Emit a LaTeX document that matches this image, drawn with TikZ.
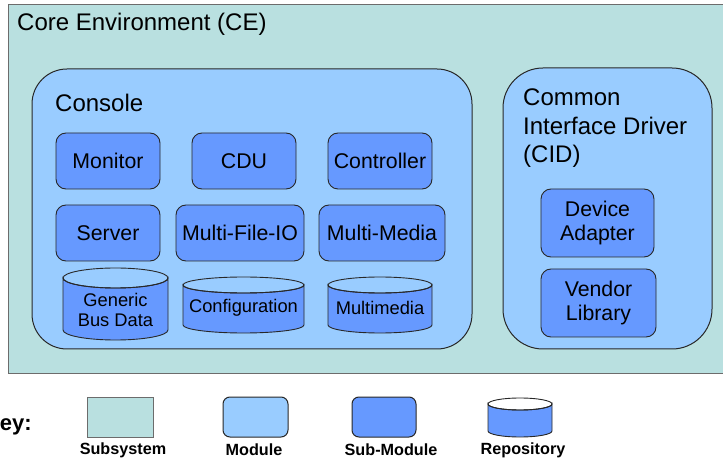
\documentclass[tikz,border=0pt]{standalone}
\usepackage{fontspec}
\setmainfont{Liberation Sans}
\definecolor{cefill}{RGB}{185,224,224}
\definecolor{modfill}{RGB}{153,204,255}
\definecolor{subfill}{RGB}{102,153,255}
\definecolor{edge}{RGB}{40,40,40}
\begin{document}
\begin{tikzpicture}[x=1pt,y=-1pt,
  cebox/.style={draw=gray!85!black, fill=cefill, line width=1pt, rectangle, inner sep=0pt},
  modbox/.style={draw=edge, fill=modfill, line width=1pt, rectangle, inner sep=0pt},
  subbox/.style={draw=edge, fill=subfill, line width=0.9pt, rounded corners=10pt, rectangle, inner sep=0pt, minimum height=56pt, font=\fontsize{21.3}{25}\selectfont, align=center},
  cyl/.style={draw=edge, fill=subfill, line width=0.9pt},
  title/.style={font=\fontsize{24}{28}\selectfont, inner sep=0pt, anchor=west},
  keylabel/.style={font=\fontsize{16.2}{18}\selectfont\bfseries, inner sep=0pt},
  cyltext/.style={font=\fontsize{18.3}{21}\selectfont, align=center, inner sep=0pt}
]
\useasboundingbox (0,0) rectangle (723,462);
\clip (0,0) rectangle (723,462);
\fill[white] (0,0) rectangle (723,462);
% Core environment
\node[cebox, minimum width=732pt, minimum height=368pt] (ce) at (374,189) {};
\node[title] (cetitle) at (17,24) {Core Environment (CE)};
% Console
\node[modbox, rounded corners=35pt, minimum width=440pt, minimum height=280pt] (console) at (252,209) {};
\node[title] (consoletitle) at (55,103) {Console};
% CID
\node[modbox, rounded corners=40pt, minimum width=209pt, minimum height=281pt] (cid) at (607.5,208.5) {};
\node[font=\fontsize{24}{28.5}\selectfont, align=left, inner sep=0pt, anchor=west] (cidtitle) at (523,128.5) {Common\\Interface Driver\\(CID)};
% CID sub-modules
\node[subbox, minimum width=113pt, minimum height=68pt, font=\fontsize{21.3}{24.5}\selectfont] (device) at (597.5,223) {Device\\Adapter};
\node[subbox, minimum width=115pt, minimum height=68pt, font=\fontsize{21.3}{24.5}\selectfont] (vendor) at (598.5,303) {Vendor\\Library};
% Console sub-modules
\node[subbox, minimum width=104pt] (monitor) at (108,161) {Monitor};
\node[subbox, minimum width=104pt] (cdu) at (244,161) {CDU};
\node[subbox, minimum width=104pt] (controller) at (380,161) {Controller};
\node[subbox, minimum width=104pt] (server) at (108,233) {Server};
\node[subbox, minimum width=128pt] (mfio) at (240,233) {Multi-File-IO};
\node[subbox, minimum width=126pt] (mmedia) at (382,233) {Multi-Media};
% Repositories
% Generic Bus Data
\filldraw[cyl] (63,278) -- (63,330) arc[start angle=180, end angle=0, x radius=52.5, y radius=10] -- (168,278) arc[start angle=0, end angle=180, x radius=52.5, y radius=10] -- cycle;
\draw[edge, line width=0.9pt] (115.5,278) ellipse[x radius=52.5, y radius=10];
\node[cyltext] (gbd) at (115.5,310) {Generic\\[-1pt]Bus Data};
% Configuration
\filldraw[cyl] (183,285) -- (183,325) arc[start angle=180, end angle=0, x radius=60.5, y radius=8] -- (304,285) arc[start angle=0, end angle=180, x radius=60.5, y radius=8] -- cycle;
\draw[edge, line width=0.9pt] (243.5,285) ellipse[x radius=60.5, y radius=8];
\node[cyltext] (config) at (243.5,308) {Configuration};
% Multimedia
\filldraw[cyl] (328,285) -- (328,325) arc[start angle=180, end angle=0, x radius=52, y radius=8] -- (432,285) arc[start angle=0, end angle=180, x radius=52, y radius=8] -- cycle;
\draw[edge, line width=0.9pt] (380,285) ellipse[x radius=52, y radius=8];
\node[cyltext] (mmrepo) at (380,308) {Multimedia};
% Key
\node[font=\fontsize{22}{26}\selectfont\bfseries, inner sep=0pt, anchor=east] (key) at (32,425) {Key:};
\node[cebox, minimum width=66pt, minimum height=40pt] (ksub) at (120,417) {};
\node[modbox, rounded corners=7pt, minimum width=65pt, minimum height=40pt] (kmod) at (255.5,417) {};
\node[modbox, fill=subfill, rounded corners=7pt, minimum width=64pt, minimum height=40pt] (ksm) at (384,417) {};
\filldraw[cyl] (488,404) -- (488,431) arc[start angle=180, end angle=0, x radius=32, y radius=6] -- (552,404) arc[start angle=0, end angle=180, x radius=32, y radius=6] -- cycle;
\draw[edge, line width=0.9pt] (520,404) ellipse[x radius=32, y radius=6];
\node[keylabel] (lsub) at (123,450) {Subsystem};
\node[keylabel] (lmod) at (254,450) {Module};
\node[keylabel] (lsm) at (391,450) {Sub-Module};
\node[keylabel] (lrep) at (523,450) {Repository};
\end{tikzpicture}
\end{document}
